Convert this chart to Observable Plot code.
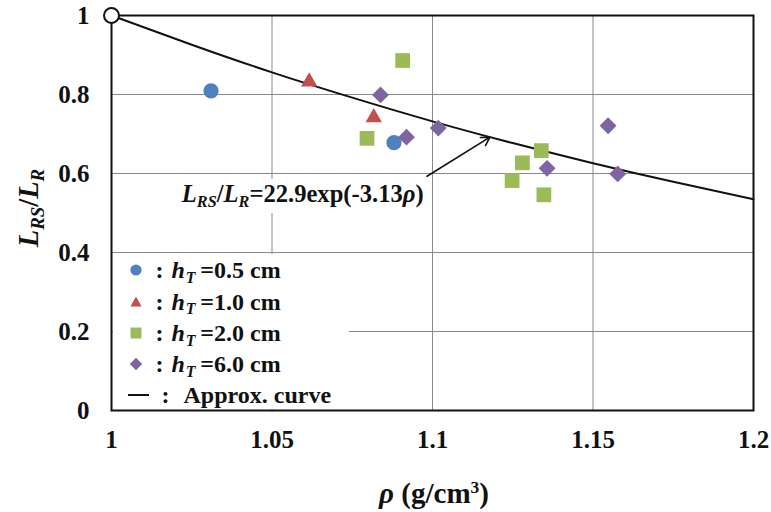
<!DOCTYPE html>
<html>
<head>
<meta charset="utf-8">
<script src="https://cdn.jsdelivr.net/npm/d3@7"></script>
<script src="https://cdn.jsdelivr.net/npm/@observablehq/plot@0.6"></script>
<style>
  html, body { margin: 0; padding: 0; background: #fff; }
  #wrap { position: relative; width: 771px; height: 512px; font-family: "Liberation Serif", "Times New Roman", "DejaVu Serif", serif; font-weight: bold; color: #111; }
  .ov { position: absolute; white-space: nowrap; }
  .sub { font-size: 0.66em; vertical-align: -0.3em; line-height: 0; }
  .it { font-style: italic; }
  .lrow { position: absolute; left: 0; height: 28px; line-height: 28px; font-size: 24px; display: flex; align-items: center; }
</style>
</head>
<body>
<div id="wrap"></div>
<script>
// ---------- data ----------
const xTicks = [1, 1.05, 1.1, 1.15, 1.2];
const yTicks = [0, 0.2, 0.4, 0.6, 0.8, 1];
const xGrid = [1.05, 1.1, 1.15];
const yGrid = [0.2, 0.4, 0.6, 0.8];

const rho05 = [1.031, 1.088];
const ratio05 = [0.809, 0.678];
const rho10 = [1.0616, 1.0817];
const ratio10 = [0.832, 0.742];
const rho20 = [1.0907, 1.0796, 1.1339, 1.1280, 1.1248, 1.1347];
const ratio20 = [0.886, 0.689, 0.658, 0.627, 0.582, 0.546];
const rho60 = [1.0838, 1.0919, 1.1018, 1.1357, 1.1547, 1.1577];
const ratio60 = [0.799, 0.692, 0.715, 0.613, 0.721, 0.599];

// approximate curve
const curveRho = [1.0, 1.025, 1.05, 1.075, 1.1, 1.125, 1.15, 1.175, 1.2];
const curveRatio = [1.0, 0.926, 0.856, 0.792, 0.732, 0.677, 0.626, 0.579, 0.535];

// open reference point
const refRho = [1.0];
const refRatio = [1.0];

// annotation arrow (tail -> head)
const arrowFrom = [1.0983, 0.593];
const arrowTo = [1.1179, 0.692];
const annoAt = [1.0205, 0.527]; // left, baseline

const legendLabels = ["0.5", "1.0", "2.0", "6.0"];
const colors = ["#4F81BD", "#C0504D", "#9BBB59", "#8064A2"];
const curveLabel = "Approx. curve";
const xLabel = "(g/cm";

// ---------- chart ----------
const pts = (xs, ys) => xs.map((x, i) => ({x, y: ys[i]}));

const chart = Plot.plot({
  width: 771,
  height: 512,
  marginLeft: 111,
  marginRight: 18,
  marginTop: 15,
  marginBottom: 102,
  style: {fontFamily: "'Liberation Serif', 'Times New Roman', serif", fontWeight: "bold", fontSize: "25px", color: "#111", background: "transparent", overflow: "visible"},
  x: {domain: [1, 1.2], ticks: xTicks, tickFormat: d => String(+d.toFixed(2)), tickSize: 0, tickPadding: 20, label: null},
  y: {domain: [0, 1], ticks: yTicks, tickFormat: d => String(+d.toFixed(2)), tickSize: 0, tickPadding: 22, label: null},
  marks: [
    Plot.gridX(xGrid, {stroke: "#8a8a8a", strokeOpacity: 1, strokeWidth: 1}),
    Plot.gridY(yGrid, {stroke: "#8a8a8a", strokeOpacity: 1, strokeWidth: 1}),
    Plot.line(pts(curveRho, curveRatio), {x: "x", y: "y", stroke: "#111", strokeWidth: 2, curve: "natural"}),
    Plot.arrow([{x1: arrowFrom[0], y1: arrowFrom[1], x2: arrowTo[0], y2: arrowTo[1]}], {x1: "x1", y1: "y1", x2: "x2", y2: "y2", stroke: "#111", strokeWidth: 1.6, headLength: 9, bend: 0}),
    Plot.dot(pts(rho05, ratio05), {x: "x", y: "y", symbol: "circle", r: 7.6, fill: colors[0], stroke: "none"}),
    Plot.dot(pts(rho10, ratio10), {x: "x", y: "y", symbol: "triangle", r: 6.1, fill: colors[1], stroke: "none"}),
    Plot.dot(pts(rho20, ratio20), {x: "x", y: "y", symbol: "square", r: 8.3, fill: colors[2], stroke: "none"}),
    Plot.dot(pts(rho60, ratio60), {x: "x", y: "y", symbol: "diamond2", r: 7.6, fill: colors[3], stroke: "none"}),
    Plot.frame({stroke: "#111", strokeWidth: 2}),
    Plot.dot(pts(refRho, refRatio), {x: "x", y: "y", r: 7.5, fill: "white", stroke: "#111", strokeWidth: 2})
  ]
});

const wrap = document.getElementById("wrap");
wrap.appendChild(chart);
chart.style.position = "absolute";
chart.style.left = "0px";
chart.style.top = "0px";

const sx = chart.scale("x"), sy = chart.scale("y");
const X = v => sx.apply(v), Y = v => sy.apply(v);

function add(html, css) {
  const d = document.createElement("div");
  d.className = "ov";
  d.innerHTML = html;
  Object.assign(d.style, css);
  wrap.appendChild(d);
  return d;
}

// annotation with white background
add(`<span class="it">L</span><span class="sub it">RS</span>/<span class="it">L</span><span class="sub it">R</span>=22.9exp(-3.13<span class="it">ρ</span>)`, {
  left: (X(annoAt[0]) + 2) + "px",
  top: (Y(annoAt[1]) - 23.2) + "px",
  fontSize: "24.6px",
  lineHeight: "30px",
  background: "white",
  padding: "0 3px 4px 3px"
});

// x axis title
add(`<span class="it">ρ</span> ${xLabel}<sup style="font-size:0.6em;vertical-align:0.55em;line-height:0">3</sup>)`, {
  left: "434px",
  top: "477px",
  fontSize: "29px",
  lineHeight: "32px",
  transform: "translateX(-50%)"
});

// y axis title
add(`<span class="it">L</span><span class="sub it">RS</span>/<span class="it">L</span><span class="sub it">R</span>`, {
  left: "29px",
  top: "208px",
  fontSize: "28.5px",
  lineHeight: "32px",
  transform: "translate(-50%,-50%) rotate(-90deg)"
});

// legend
const legBox = document.createElement("div");
Object.assign(legBox.style, {position: "absolute", left: (X(1) + 1.5) + "px", top: (Y(0.4) + 1.5) + "px", width: "236px", height: (Y(0) - Y(0.4) - 2.5) + "px", background: "white"});
wrap.appendChild(legBox);

const symSvg = [
  `<svg width="14" height="14"><circle cx="7" cy="7" r="5.6" fill="${colors[0]}"/></svg>`,
  `<svg width="14" height="14"><path d="M7,1.5L12.6,11.5L1.4,11.5Z" fill="${colors[1]}"/></svg>`,
  `<svg width="14" height="14"><rect x="1.5" y="1.5" width="11" height="11" fill="${colors[2]}"/></svg>`,
  `<svg width="14" height="14"><path d="M7,0.8L13.2,7L7,13.2L0.8,7Z" fill="${colors[3]}"/></svg>`
];
const rowY = [270, 301.5, 333, 364, 395];
const boxTop = Y(0.4) + 1.5;
legendLabels.forEach((lab, i) => {
  const r = document.createElement("div");
  r.className = "lrow";
  r.style.top = (rowY[i] - 14 - boxTop) + "px";
  r.innerHTML = `<span style="width:14px;margin-left:16px;display:inline-flex">${symSvg[i]}</span><span style="margin-left:13px">:</span><span style="margin-left:8px"><span class="it">h</span><span class="sub it" style="margin-left:1px">T</span>&thinsp;=${lab} cm</span>`;
  legBox.appendChild(r);
});
const lastRow = document.createElement("div");
lastRow.className = "lrow";
lastRow.style.top = (rowY[4] - 14 - boxTop) + "px";
lastRow.innerHTML = `<span style="width:21px;height:2px;background:#111;margin-left:15px;display:inline-block"></span><span style="margin-left:13px">:</span><span style="margin-left:14px">${curveLabel}</span>`;
legBox.appendChild(lastRow);
</script>
</body>
</html>
